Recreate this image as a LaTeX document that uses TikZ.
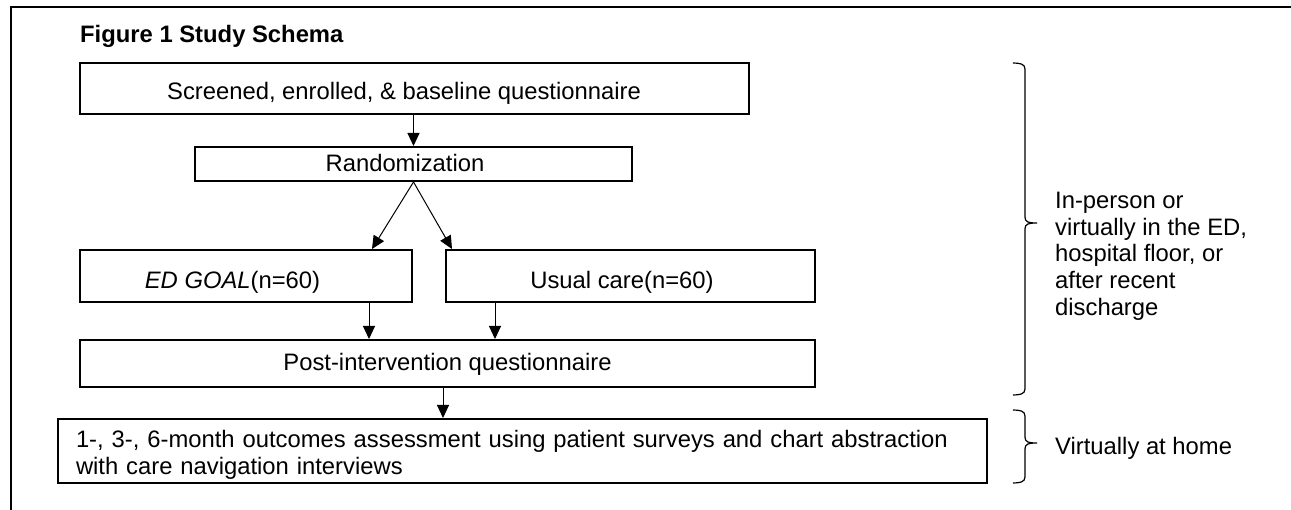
\documentclass[tikz,border=0pt]{standalone}
\usepackage{fontspec}
\setmainfont{Liberation Sans}
\usetikzlibrary{arrows.meta}
\begin{document}
\begin{tikzpicture}[x=1pt,y=-1pt,
  every node/.style={font=\fontsize{23.8}{26.7}\selectfont, inner sep=0pt},
  stagebox/.style={draw, line width=2pt, text depth=5pt},
  arr/.style={line width=1pt, -{Triangle[length=13pt,width=12pt]}},
  bracket/.style={line width=1.2pt},
  sidetext/.style={align=left}]
\useasboundingbox (0,0) rectangle (1291,510);
% outer frame (left and top edges)
\draw[line width=2pt] (11,512) -- (11,7) -- (1293,7);
% title
\node[anchor=base west, font=\fontsize{23.8}{26.7}\selectfont\bfseries] (title) at (80,43) {Figure 1 Study Schema};
% boxes
\node[stagebox, minimum width=669pt, minimum height=51pt, text height=27pt] (screen) at (414.5,88.5) {Screened, enrolled, \& baseline questionnaire\hspace*{21pt}};
\node[stagebox, minimum width=437pt, minimum height=34pt, text height=20.4pt] (rand) at (413.5,164) {Randomization\hspace*{17pt}};
\node[stagebox, minimum width=332pt, minimum height=52pt, text height=31pt] (goal) at (246,276) {\textit{ED GOAL}(n=60)\hspace*{27pt}};
\node[stagebox, minimum width=369pt, minimum height=52pt, text height=31pt] (usual) at (630.5,276) {Usual care(n=60)\hspace*{17pt}};
\node[stagebox, minimum width=735pt, minimum height=47pt, text height=19.4pt] (post) at (447.5,363.5) {Post-intervention questionnaire};
\node[draw, line width=2pt, minimum width=929pt, minimum height=64pt, text width=893pt, align=left] (outcome) at (522.5,451) {\rule{0pt}{25pt}1-, 3-, 6-month outcomes assessment using patient surveys and chart abstraction\\with care navigation interviews};
% connectors
\draw[arr] (rand.north |- screen.south) -- (rand.north);
\coordinate (goaltip) at ([xshift=-41pt]goal.north east);
\coordinate (usualtip) at ([xshift=7pt]usual.north west);
\draw[arr] (rand.south) -- (goaltip);
\draw[arr] (rand.south) -- (usualtip);
\coordinate (goalout) at ([xshift=123pt]goal.south);
\coordinate (usualout) at ([xshift=-135.5pt]usual.south);
\draw[arr] (goalout) -- (goalout |- post.north);
\draw[arr] (usualout) -- (usualout |- post.north);
\coordinate (postout) at ([xshift=-4.5pt]post.south);
\draw[arr] (postout) -- (postout |- outcome.north);
% brackets
\draw[bracket] (1013,63) .. controls (1020,63) and (1025,64) .. (1025,69) -- (1025,217)
  .. controls (1025,222) and (1028,223) .. (1037,223)
  .. controls (1028,223) and (1025,224) .. (1025,229) -- (1025,389)
  .. controls (1025,394) and (1020,395) .. (1013,395);
\draw[bracket] (1013,410) .. controls (1020,410) and (1025,411) .. (1025,416) -- (1025,437)
  .. controls (1025,442) and (1028,443) .. (1037,443)
  .. controls (1028,443) and (1025,444) .. (1025,449) -- (1025,477)
  .. controls (1025,482) and (1020,483) .. (1013,483);
% side labels
\node[sidetext, anchor=north west] (inperson) at (1055,192) {In-person or\\virtually in the ED,\\hospital floor, or\\after recent\\discharge};
\node[anchor=base west] (home) at (1055,455) {Virtually at home};
\end{tikzpicture}
\end{document}
